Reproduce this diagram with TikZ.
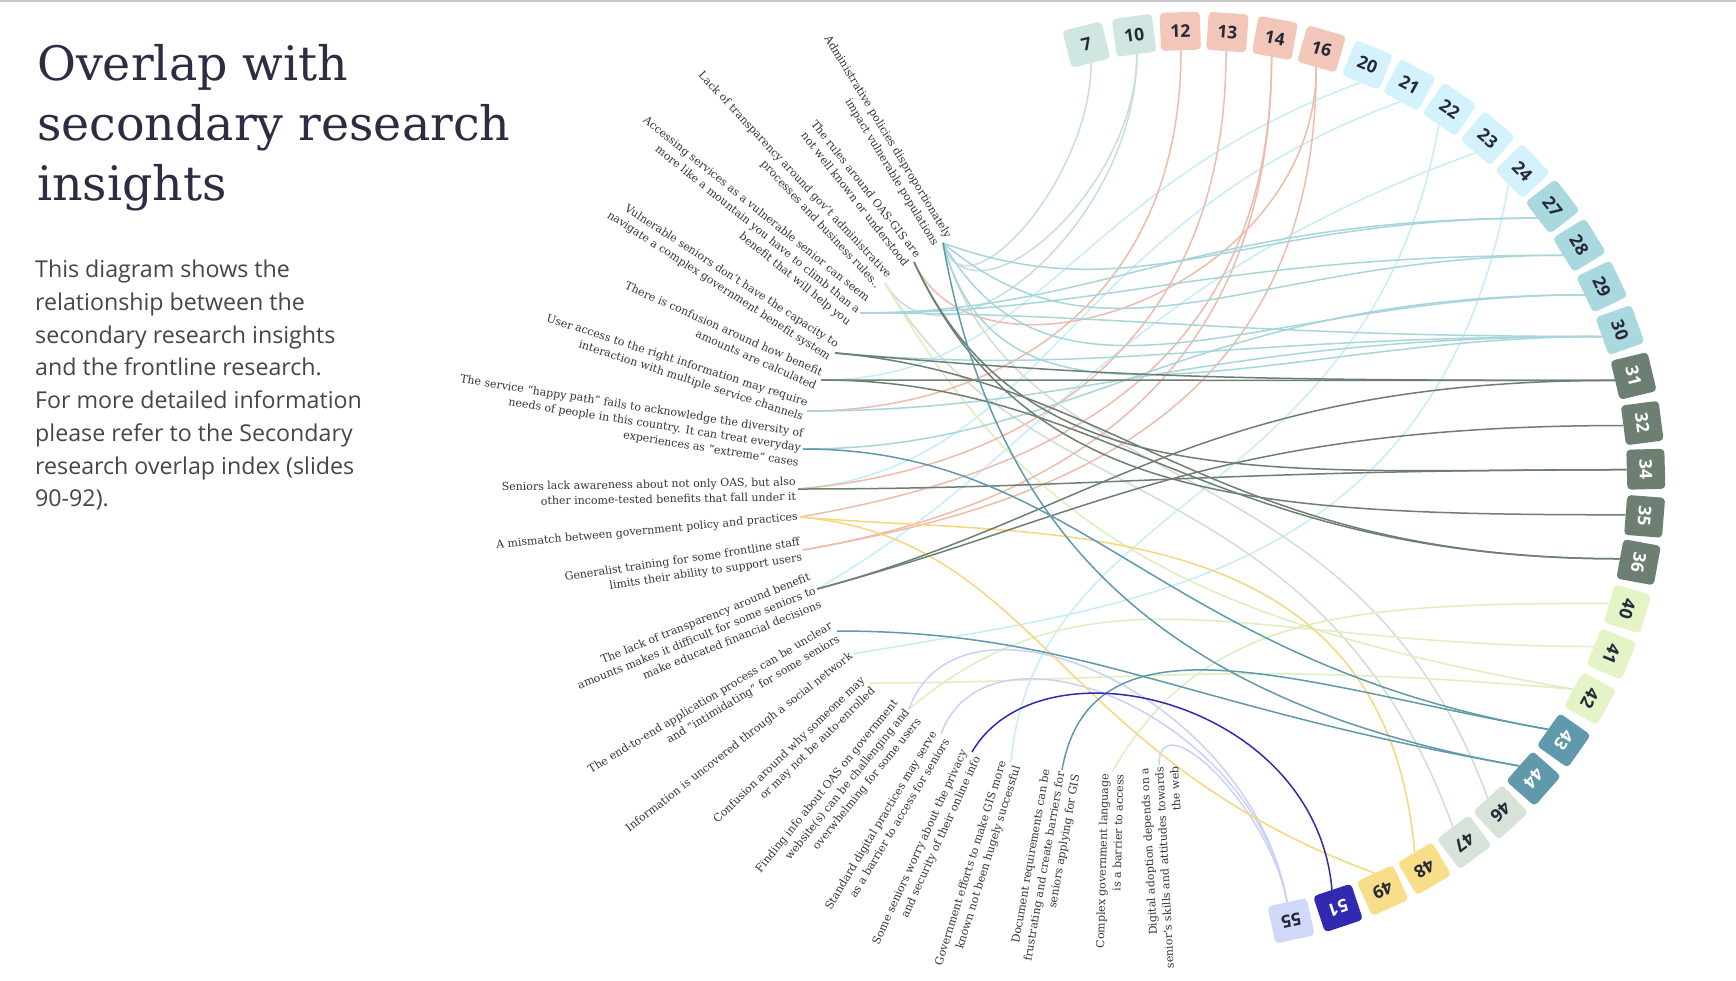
\documentclass[tikz,border=0pt]{standalone}
\usepackage{fontspec}
\setmainfont{DejaVu Serif}
\newfontfamily\osans{Open Sans}
\usetikzlibrary{calc}
\pgfdeclarelayer{bg}
\pgfsetlayers{bg,main}
\definecolor{titlec}{HTML}{2B2D42}
\definecolor{bodyc}{HTML}{45454F}
\definecolor{labc}{HTML}{33333F}
\definecolor{numdark}{HTML}{262838}
\definecolor{fgA}{HTML}{D0E6E1}\definecolor{lgA}{HTML}{C8DED8}
\definecolor{fsal}{HTML}{F2C7B9}\definecolor{lsal}{HTML}{EFBBAA}
\definecolor{fcy}{HTML}{D3F2FB}\definecolor{lcy}{HTML}{C6EDF8}
\definecolor{ftl}{HTML}{A9D9DE}\definecolor{ltl}{HTML}{A6D6DC}
\definecolor{fdg}{HTML}{6D7F71}\definecolor{ldg}{HTML}{6D7F71}
\definecolor{fyg}{HTML}{E4F4C7}\definecolor{lyg}{HTML}{DCEFBD}
\definecolor{fdt}{HTML}{5F99AB}\definecolor{ldt}{HTML}{5F99AB}
\definecolor{fpg}{HTML}{D7E3D8}\definecolor{lpg}{HTML}{D0DED1}
\definecolor{fyl}{HTML}{F9DE8A}\definecolor{lyl}{HTML}{F7D77A}
\definecolor{fdb}{HTML}{2F2AB0}\definecolor{ldb}{HTML}{2F2AB0}
\definecolor{flv}{HTML}{D1D9FA}\definecolor{llv}{HTML}{C8D2F8}
\newcommand\numbox[4]{\node[numbox, fill=#3, text=#4, rotate=#2-90] (b#1) at ({1196+450*cos(#2)},{481-450*sin(#2)}) {#1};}
% label, box, colour, direction leaving label, direction leaving box
\newcommand\chordln[5]{%
  \draw[ln,#3] let \p1=(l#1.east), \p2=(b#2.south), \n1={veclen(\x2-\x1,\y2-\y1)} in
    (\p1) .. controls ($(\p1)+(#4:{0.35*\n1})$) and ($(\p2)+(#5:{0.5*\n1})$) .. (\p2);}
\begin{document}
\begin{tikzpicture}[x=1pt,y=-1pt,
  numbox/.style={rounded corners=4pt, minimum width=40pt, minimum height=38pt, inner sep=0pt, font=\osans\bfseries\fontsize{17.5}{17.5}\selectfont},
  lab/.style={anchor=east, align=right, inner sep=2pt, font=\fontsize{11}{15}\selectfont, text=labc},
  ln/.style={line width=1.5pt}]
\useasboundingbox (0,0) rectangle (1736,980);
\draw[line width=2pt, color=black!22] (0,1) -- (1736,1);
\coordinate (O) at (1196,481);

\node[anchor=north west, align=left, inner sep=0pt, font=\fontsize{47.5}{60}\selectfont, text=titlec] (title) at (37,44) {Overlap with\\secondary research\\insights};
\node[anchor=north west, align=left, inner sep=0pt, font=\osans\fontsize{23.2}{32.7}\selectfont, text=bodyc] (body) at (35,260) {This diagram shows the\\relationship between the\\secondary research insights\\and the frontline research.\\For more detailed information\\please refer to the Secondary\\research overlap index (slides\\90-92).};

% boxes
\numbox{7}{104.1}{fgA}{numdark}
\numbox{10}{97.9}{fgA}{numdark}
\numbox{12}{92}{fsal}{numdark}
\numbox{13}{86}{fsal}{numdark}
\numbox{14}{79.9}{fsal}{numdark}
\numbox{16}{73.8}{fsal}{numdark}
\numbox{20}{67.6}{fcy}{numdark}
\numbox{21}{61.7}{fcy}{numdark}
\numbox{22}{55.7}{fcy}{numdark}
\numbox{23}{49.6}{fcy}{numdark}
\numbox{24}{43.5}{fcy}{numdark}
\numbox{27}{37.6}{ftl}{numdark}
\numbox{28}{31.6}{ftl}{numdark}
\numbox{29}{25.6}{ftl}{numdark}
\numbox{30}{19.6}{ftl}{numdark}
\numbox{31}{13.5}{fdg}{white}
\numbox{32}{7.4}{fdg}{white}
\numbox{34}{1.5}{fdg}{white}
\numbox{35}{-4.5}{fdg}{white}
\numbox{36}{-10.4}{fdg}{white}
\numbox{40}{-16.5}{fyg}{numdark}
\numbox{41}{-22.6}{fyg}{numdark}
\numbox{42}{-28.9}{fyg}{numdark}
\numbox{43}{-35.2}{fdt}{white}
\numbox{44}{-41.4}{fdt}{white}
\numbox{46}{-47.4}{fpg}{numdark}
\numbox{47}{-53.4}{fpg}{numdark}
\numbox{48}{-59.5}{fyl}{numdark}
\numbox{49}{-65.5}{fyl}{numdark}
\numbox{51}{-71.6}{fdb}{white}
\numbox{55}{-77.8}{flv}{numdark}

% labels
\node[lab, rotate=-58.8] (l1) at (943,243) {Administrative policies disproportionately\\impact vulnerable populations};
\node[lab, rotate=-52] (l2) at (914,262) {The rules around OAS-GIS are\\not well known or understood};
\node[lab, rotate=-47] (l3) at (885,283) {Lack of transparency around gov’t administrative\\processes and business rules..};
\node[lab, rotate=-39] (l4) at (860,313) {Accessing services as a vulnerable senior can seem\\more like a mountain you have to climb than a\\benefit that will help you};
\node[lab, rotate=-33] (l5) at (835,353) {Vulnerable seniors don’t have the capacity to\\navigate a complex government benefit system};
\node[lab, rotate=-24] (l6) at (821,380) {There is confusion around how benefit\\amounts are calculated};
\node[lab, rotate=-18] (l7) at (807,411) {User access to the right information may require\\interaction with multiple service channels};
\node[lab, rotate=-9] (l8) at (803,449) {The service “happy path” fails to acknowledge the diversity of\\needs of people in this country. It can treat everyday\\experiences as “extreme” cases};
\node[lab, rotate=1] (l9) at (798,489) {Seniors lack awareness about not only OAS, but also\\other income-tested benefits that fall under it};
\node[lab, rotate=5.3] (l10) at (800,517) {A mismatch between government policy and practices};
\node[lab, rotate=8.5] (l11) at (803,550) {Generalist training for some frontline staff\\limits their ability to support users};
\node[lab, rotate=22] (l12) at (817,589) {The lack of transparency around benefit\\amounts makes it difficult for some seniors to\\make educated financial decisions};
\node[lab, rotate=31] (l13) at (837,631) {The end-to-end application process can be unclear\\and “intimidating” for some seniors};
\node[lab, rotate=38] (l14) at (853,654) {Information is uncovered through a social network};
\node[lab, rotate=44] (l15) at (870,683) {Confusion around why someone may\\or may not be auto-enrolled};
\node[lab, rotate=51] (l16) at (909,709) {Finding info about OAS on government\\website(s) can be challenging and\\overwhelming for some users};
\node[lab, rotate=59] (l17) at (941,734) {Standard digital practices may serve\\as a barrier to access for seniors};
\node[lab, rotate=65.5] (l18) at (972,752) {Some seniors worry about the privacy\\and security of their online info};
\node[lab, rotate=72.5] (l19) at (1011,762) {Government efforts to make GIS more\\known not been hugely successful};
\node[lab, rotate=80] (l20) at (1062,770) {Document requirements can be\\frustrating and create barriers for\\seniors applying for GIS};
\node[lab, rotate=88.5] (l21) at (1112,772) {Complex government language\\is a barrier to access};
\node[lab, rotate=93] (l22) at (1159,765) {Digital adoption depends on a\\senior’s skills and attitudes towards\\the web};

\begin{pgfonlayer}{bg}
\fill[white] (0,0) rectangle (1736,980);
% pale grey-green
\chordln{1}{7}{lgA}{-75}{-90}
\chordln{1}{10}{lgA}{-70}{-90}
\chordln{3}{10}{lgA}{-60}{-90}
% light cyan
\chordln{6}{20}{lcy}{0}{200}
\chordln{9}{21}{lcy}{5}{200}
\chordln{19}{22}{lcy}{85}{-100}
\chordln{12}{23}{lcy}{30}{200}
\chordln{14}{24}{lcy}{10}{-100}
% pale green-grey
\chordln{1}{46}{lpg}{-75}{110}
\chordln{3}{47}{lpg}{-60}{110}
% yellow-green
\chordln{21}{40}{lyg}{60}{180}
\chordln{16}{41}{lyg}{40}{180}
\chordln{15}{42}{lyg}{0}{175}
\chordln{3}{42}{lyg}{-60}{170}
% lavender
\chordln{16}{55}{llv}{70}{100}
\chordln{17}{55}{llv}{70}{100}
\chordln{22}{55}{llv}{90}{100}
% salmon
\chordln{7}{12}{lsal}{0}{-90}
\chordln{9}{13}{lsal}{5}{-90}
\chordln{10}{14}{lsal}{10}{-90}
\chordln{11}{14}{lsal}{10}{-90}
\chordln{11}{16}{lsal}{10}{-90}
\chordln{2}{16}{lsal}{-65}{-90}
% teal
\chordln{1}{27}{ltl}{-20}{180}
\chordln{4}{27}{ltl}{0}{180}
\chordln{1}{28}{ltl}{-40}{180}
\chordln{4}{28}{ltl}{0}{180}
\chordln{1}{29}{ltl}{-60}{180}
\chordln{8}{29}{ltl}{0}{180}
\chordln{1}{30}{ltl}{-75}{180}
\chordln{4}{30}{ltl}{0}{180}
\chordln{5}{30}{ltl}{-5}{180}
\chordln{7}{30}{ltl}{0}{180}
% yellow
\chordln{10}{48}{lyl}{-5}{95}
\chordln{10}{49}{lyl}{-5}{160}
% dark green
\chordln{5}{31}{ldg}{-5}{180}
\chordln{6}{31}{ldg}{0}{180}
\chordln{12}{31}{ldg}{15}{180}
\chordln{12}{32}{ldg}{15}{180}
\chordln{2}{34}{ldg}{-65}{180}
\chordln{9}{34}{ldg}{0}{180}
\chordln{2}{35}{ldg}{-65}{180}
\chordln{5}{36}{ldg}{-5}{180}
\chordln{6}{36}{ldg}{0}{180}
% dark teal
\chordln{8}{43}{ldt}{0}{170}
\chordln{20}{43}{ldt}{80}{170}
\chordln{1}{44}{ldt}{-80}{170}
\chordln{13}{44}{ldt}{0}{170}
% dark blue
\chordln{18}{51}{ldb}{60}{95}
\end{pgfonlayer}
\end{tikzpicture}
\end{document}
